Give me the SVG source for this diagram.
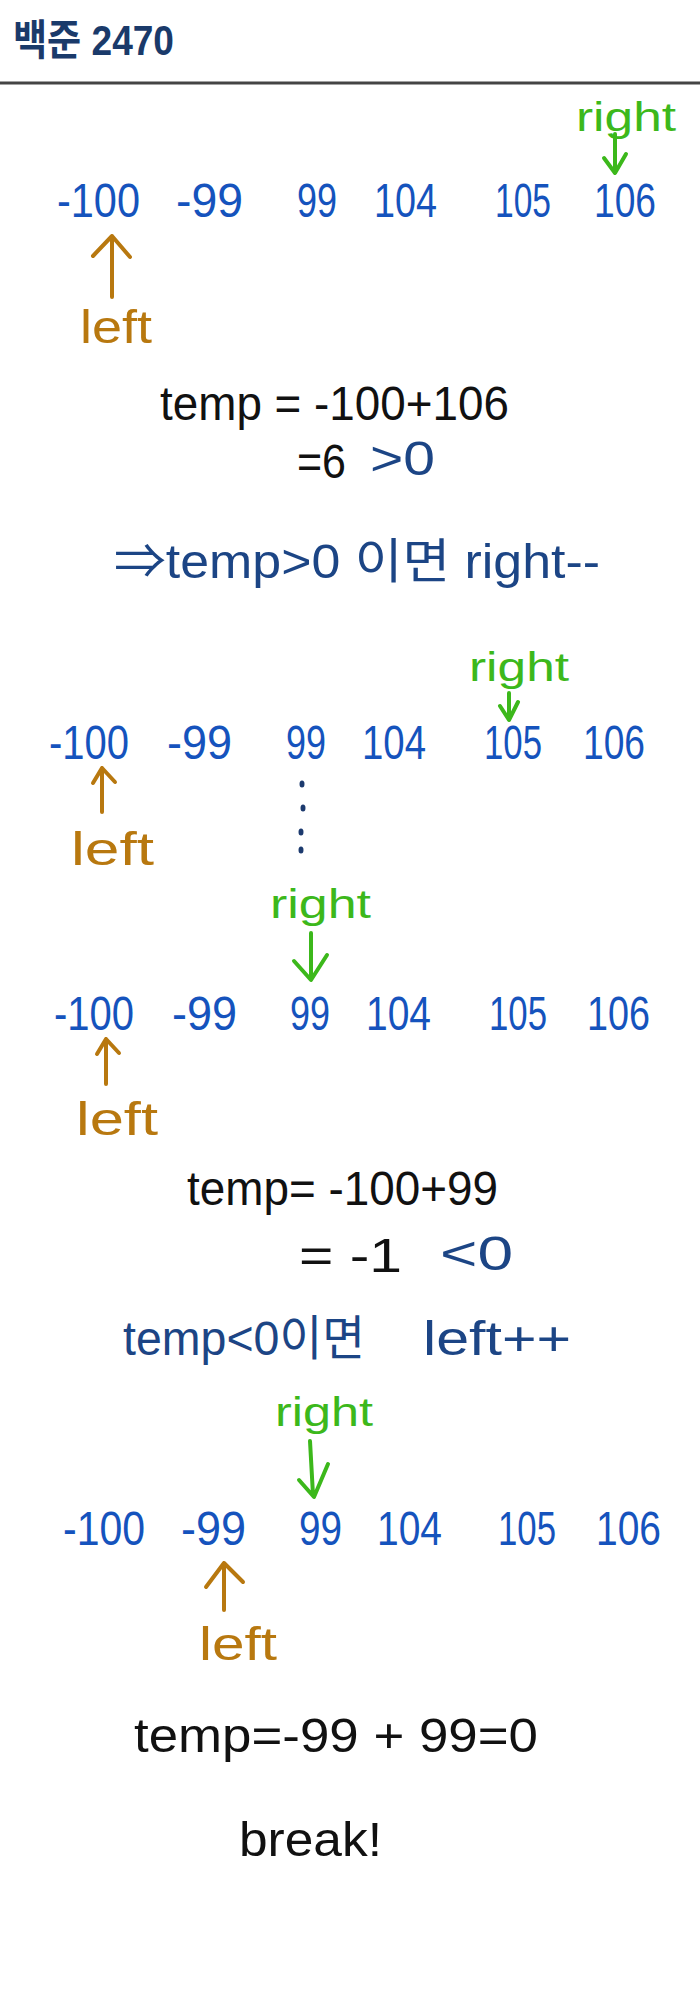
<svg xmlns="http://www.w3.org/2000/svg" width="700" height="2000" viewBox="0 0 700 2000">
<style>
text{font-family:"Liberation Sans","Noto Sans CJK KR",sans-serif;}
.num{fill:#1553bd;font-size:48px;}
.rt{fill:#3cb81b;font-size:40px;}
.lf{fill:#b8780f;font-size:46px;}
.blk{fill:#111;font-size:48px;}
.nv{fill:#1c4585;font-size:48px;}
.ga{stroke:#3cb81b;stroke-width:4;fill:none;stroke-linecap:round;stroke-linejoin:round;}
.oa{stroke:#b8780f;stroke-width:4;fill:none;stroke-linecap:round;stroke-linejoin:round;}
</style>
<rect width="700" height="2000" fill="#fff"/>
<g id="header">
<text x="13" y="55" font-size="42" font-weight="bold" fill="#1a3a6a" textLength="161" lengthAdjust="spacingAndGlyphs">백준 2470</text>
<line x1="0" y1="83" x2="700" y2="83" stroke="#444" stroke-width="3"/>
</g>
<g id="row1">
<text class="num" x="57" y="217" textLength="83" lengthAdjust="spacingAndGlyphs">-100</text>
<text class="num" x="176" y="217" textLength="67" lengthAdjust="spacingAndGlyphs">-99</text>
<text class="num" x="297" y="217" textLength="40" lengthAdjust="spacingAndGlyphs">99</text>
<text class="num" x="374" y="217" textLength="63" lengthAdjust="spacingAndGlyphs">104</text>
<text class="num" x="495" y="217" textLength="56" lengthAdjust="spacingAndGlyphs">105</text>
<text class="num" x="594" y="217" textLength="62" lengthAdjust="spacingAndGlyphs">106</text>
<text class="rt" x="576" y="131" textLength="100" lengthAdjust="spacingAndGlyphs">right</text>
<text class="lf" x="80" y="343" textLength="72" lengthAdjust="spacingAndGlyphs">left</text>
</g>
<g id="calc1">
<text class="blk" x="160" y="420" textLength="349" lengthAdjust="spacingAndGlyphs">temp = -100+106</text>
<text class="blk" x="297" y="478" font-size="46" textLength="49" lengthAdjust="spacingAndGlyphs">=6</text>
<text class="nv" x="370" y="475" font-size="46" textLength="65" lengthAdjust="spacingAndGlyphs">&gt;0</text>
<text class="nv" x="114" y="578" font-size="50" textLength="486" lengthAdjust="spacingAndGlyphs">⇒temp&gt;0 이면 right--</text>
</g>
<g id="row2">
<text class="num" x="49" y="759" textLength="80" lengthAdjust="spacingAndGlyphs">-100</text>
<text class="num" x="167" y="759" textLength="65" lengthAdjust="spacingAndGlyphs">-99</text>
<text class="num" x="286" y="759" textLength="40" lengthAdjust="spacingAndGlyphs">99</text>
<text class="num" x="362" y="759" textLength="64" lengthAdjust="spacingAndGlyphs">104</text>
<text class="num" x="484" y="759" textLength="58" lengthAdjust="spacingAndGlyphs">105</text>
<text class="num" x="583" y="759" textLength="62" lengthAdjust="spacingAndGlyphs">106</text>
<text class="rt" x="469" y="681" textLength="100" lengthAdjust="spacingAndGlyphs">right</text>
<text class="lf" x="71" y="865" textLength="83" lengthAdjust="spacingAndGlyphs">left</text>
</g>
<g id="ellipsis" fill="#1c3a6e">
<ellipse cx="302" cy="784" rx="2.5" ry="3.5"/>
<ellipse cx="303" cy="808" rx="2.5" ry="3.5"/>
<ellipse cx="301" cy="832" rx="2.5" ry="3.5"/>
<ellipse cx="301" cy="850" rx="2.5" ry="3.5"/>
</g>
<g id="row3">
<text class="num" x="54" y="1030" textLength="80" lengthAdjust="spacingAndGlyphs">-100</text>
<text class="num" x="172" y="1030" textLength="65" lengthAdjust="spacingAndGlyphs">-99</text>
<text class="num" x="290" y="1030" textLength="40" lengthAdjust="spacingAndGlyphs">99</text>
<text class="num" x="366" y="1030" textLength="65" lengthAdjust="spacingAndGlyphs">104</text>
<text class="num" x="489" y="1030" textLength="58" lengthAdjust="spacingAndGlyphs">105</text>
<text class="num" x="587" y="1030" textLength="63" lengthAdjust="spacingAndGlyphs">106</text>
<text class="rt" x="270" y="918" textLength="101" lengthAdjust="spacingAndGlyphs">right</text>
<text class="lf" x="76" y="1135" textLength="82" lengthAdjust="spacingAndGlyphs">left</text>
</g>
<g id="calc2">
<text class="blk" x="187" y="1205" textLength="311" lengthAdjust="spacingAndGlyphs">temp= -100+99</text>
<text class="blk" x="299" y="1272" font-size="46" textLength="103" lengthAdjust="spacingAndGlyphs">= -1</text>
<text class="nv" x="440" y="1270" font-size="46" textLength="73" lengthAdjust="spacingAndGlyphs">&lt;0</text>
<text class="nv" x="123" y="1355" textLength="242" lengthAdjust="spacingAndGlyphs">temp&lt;0이면</text>
<text class="nv" x="423" y="1355" textLength="148" lengthAdjust="spacingAndGlyphs">left++</text>
</g>
<g id="row4">
<text class="num" x="63" y="1545" textLength="82" lengthAdjust="spacingAndGlyphs">-100</text>
<text class="num" x="181" y="1545" textLength="65" lengthAdjust="spacingAndGlyphs">-99</text>
<text class="num" x="299" y="1545" textLength="43" lengthAdjust="spacingAndGlyphs">99</text>
<text class="num" x="377" y="1545" textLength="65" lengthAdjust="spacingAndGlyphs">104</text>
<text class="num" x="498" y="1545" textLength="58" lengthAdjust="spacingAndGlyphs">105</text>
<text class="num" x="596" y="1545" textLength="65" lengthAdjust="spacingAndGlyphs">106</text>
<text class="rt" x="275" y="1426" textLength="98" lengthAdjust="spacingAndGlyphs">right</text>
<text class="lf" x="199" y="1660" textLength="78" lengthAdjust="spacingAndGlyphs">left</text>
</g>
<g id="calc3">
<text class="blk" x="134" y="1752" font-size="52" textLength="404" lengthAdjust="spacingAndGlyphs">temp=-99 + 99=0</text>
<text class="blk" x="239" y="1856" font-size="50" textLength="143" lengthAdjust="spacingAndGlyphs">break!</text>
</g>
<g id="connectors">
<path class="ga" d="M615 134 L615 172 M604 158 L615 173 L626 154"/>
<path class="oa" d="M112 297 L112 236 M93 256 L112 236 L130 257"/>
<path class="ga" d="M509 693 L509 719 M500 706 L509 720 L518 702"/>
<path class="oa" d="M102 812 L102 768 M93 783 L102 768 L115 782"/>
<path class="ga" d="M311 933 L311 979 M294 961 L311 980 L327 955"/>
<path class="oa" d="M106 1084 L106 1039 M97 1054 L106 1039 L119 1053"/>
<path class="ga" d="M310 1441 L313 1495 M299 1480 L314 1497 L328 1464"/>
<path class="oa" d="M224 1610 L224 1563 M206 1587 L224 1563 L243 1582"/>
</g>
</svg>
